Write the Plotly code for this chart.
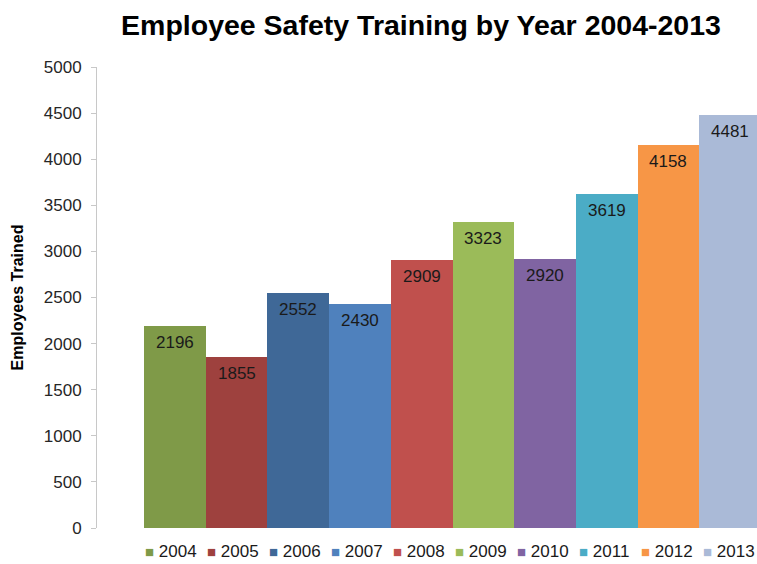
import plotly.graph_objects as go

years = ["2004", "2005", "2006", "2007", "2008", "2009", "2010", "2011", "2012", "2013"]
employees_trained = [2196, 1855, 2552, 2430, 2909, 3323, 2920, 3619, 4158, 4481]
colors = ["#7f9a48", "#9e413e", "#3f6897", "#4f81bd", "#c0504d",
          "#9bbb59", "#8064a2", "#4bacc6", "#f79646", "#aabad7"]
y_ticks = list(range(0, 5001, 500))

W, H = 757, 564
ML, MR, MT, MB = 97, 0, 67, 36
plot_w = W - ML - MR
FONT = "Liberation Sans, Arial"

fig = go.Figure()
for i, (yr, val, col) in enumerate(zip(years, employees_trained, colors)):
    fig.add_trace(go.Bar(
        x=[i], y=[val], name=yr, width=1,
        marker=dict(color=col, line=dict(width=0)),
        showlegend=False,
        hovertemplate=f"{yr}: %{{y}}<extra></extra>",
    ))
    # data label inside top of bar
    fig.add_annotation(
        x=i, y=val, xref="x", yref="y", text=str(val),
        showarrow=False, yanchor="top", yshift=-5,
        font=dict(family=FONT, size=17, color="#1a1a1a"),
    )

# legend row (custom, matches Excel layout)
leg_start_px = 144
leg_step_px = 62.0
for i, (yr, col) in enumerate(zip(years, colors)):
    px = leg_start_px + i * leg_step_px
    fig.add_annotation(
        x=(px - ML) / plot_w, y=-(551 - (H - MB)) / (H - MT - MB),
        xref="paper", yref="paper", xanchor="left", yanchor="middle",
        showarrow=False, borderpad=0,
        text=f"<span style='color:{col};font-size:15px'>■</span> {yr}",
        font=dict(family=FONT, size=17, color="#1a1a1a"),
    )

fig.update_layout(
    width=W, height=H,
    margin=dict(l=ML, r=MR, t=MT, b=MB),
    paper_bgcolor="white", plot_bgcolor="white",
    barmode="overlay",
    bargap=0,
    title=dict(
        text="<b>Employee Safety Training by Year 2004-2013</b>",
        x=421 / W, xref="container", xanchor="center",
        y=1 - 25 / H, yref="container", yanchor="middle",
        font=dict(family=FONT, size=28.5, color="#000000"),
    ),
    xaxis=dict(
        range=[-1.262, 9.435], visible=False, fixedrange=True,
    ),
    yaxis=dict(
        range=[0, 5000], tickvals=y_ticks, ticktext=[str(v) for v in y_ticks],
        showgrid=False, zeroline=False,
        showline=True, linecolor="#c8c8c8", linewidth=1,
        ticks="outside", ticklen=5, tickcolor="#c8c8c8",
        ticklabelstandoff=6,
        tickfont=dict(family=FONT, size=17, color="#262626"),
        title=dict(
            text="<b>Employees Trained</b>", standoff=16,
            font=dict(family=FONT, size=16, color="#000000"),
        ),
    ),
)

fig.write_html(
    "out.html",
    config={"displayModeBar": False},
    post_script="document.body.style.margin='0';document.body.style.overflow='hidden';",
)
